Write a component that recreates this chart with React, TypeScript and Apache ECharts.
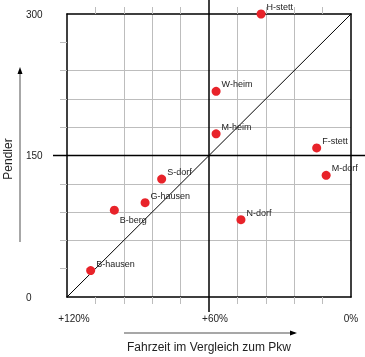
import React, { useEffect, useRef } from "react";
import * as echarts from "echarts";

const names = ["H-stett", "W-heim", "M-heim", "F-stett", "M-dorf", "S-dorf", "G-hausen", "B-berg", "B-hausen", "N-dorf"];
const fahrzeit = [38, 57, 57, 14.5, 10.5, 80, 87, 100, 110, 46.5];
const pendler = [300, 218, 173, 158, 129, 125, 100, 92, 28, 82];
const xTickValues = [120, 60, 0];
const xTickLabels = ["+120%", "+60%", "0%"];
const yTickValues = [0, 150, 300];
const gridTicks = [12, 24, 36, 48, 72, 84, 96, 108];
const yGridTicks = [30, 60, 90, 120, 180, 210, 240, 270];
const diagonal = [[120, 0], [0, 300]];

const FONT = "'Liberation Sans', Arial, sans-serif";
const TEXT = "#222";
const GRID = "#bdbdbd";

export default function App() {
  const ref = useRef<HTMLDivElement>(null);
  useEffect(() => {
    if (!ref.current) return;
    const chart = echarts.init(ref.current, null, { renderer: "svg" });
    const richKeys = ["a", "b", "c"];
    const option: any = {
      animation: false,
      textStyle: { fontFamily: FONT },
      grid: { left: 67, right: 14, top: 14, bottom: 60, containLabel: false, outerBoundsMode: "none" },
      xAxis: [
        {
          type: "value",
          inverse: true,
          min: 0,
          max: 120,
          interval: 12,
          position: "bottom",
          name: "Fahrzeit im Vergleich zum Pkw",
          nameLocation: "middle",
          nameGap: 44,
          nameTextStyle: { fontSize: 12, color: TEXT, fontFamily: FONT },
          axisLine: { show: true, onZero: false, lineStyle: { color: "#000", width: 1.5 } },
          axisTick: { show: true, length: 7, customValues: gridTicks, lineStyle: { color: GRID } },
          axisLabel: {
            customValues: xTickValues,
            margin: 16,
            fontSize: 10,
            color: TEXT,
            fontFamily: FONT,
            formatter: (v: number) => {
              const i = xTickValues.indexOf(v);
              return i < 0 ? "" : "{" + richKeys[i] + "|" + xTickLabels[i] + "}";
            },
            rich: {
              a: { fontSize: 10, color: TEXT, fontFamily: FONT, padding: [0, 0, 0, 14] },
              b: { fontSize: 10, color: TEXT, fontFamily: FONT, padding: [0, 0, 0, 12] },
              c: { fontSize: 10, color: TEXT, fontFamily: FONT },
            },
          },
          splitLine: { show: true, showMinLine: false, showMaxLine: false, lineStyle: { color: GRID, width: 1 } },
        },
        {
          type: "value",
          inverse: true,
          min: 0,
          max: 120,
          interval: 12,
          position: "top",
          axisLine: { show: true, onZero: false, lineStyle: { color: "#000", width: 1.5 } },
          axisTick: { show: true, length: 7, customValues: gridTicks, lineStyle: { color: GRID } },
          axisLabel: { show: false },
          splitLine: { show: false },
        },
      ],
      yAxis: [
        {
          type: "value",
          min: 0,
          max: 300,
          interval: 30,
          position: "left",
          name: "Pendler",
          nameLocation: "middle",
          nameRotate: 90,
          nameGap: 53,
          nameTextStyle: { fontSize: 12, color: TEXT, fontFamily: FONT, padding: [0, 7, 0, 0] },
          axisLine: { show: true, onZero: false, lineStyle: { color: "#000", width: 1.5 } },
          axisTick: { show: true, length: 7, customValues: yGridTicks, lineStyle: { color: GRID } },
          axisLabel: {
            customValues: yTickValues,
            margin: 41,
            align: "left",
            fontSize: 10,
            color: TEXT,
            fontFamily: FONT,
          },
          splitLine: { show: true, showMinLine: false, showMaxLine: false, lineStyle: { color: GRID, width: 1 } },
        },
        {
          type: "value",
          min: 0,
          max: 300,
          interval: 30,
          position: "right",
          axisLine: { show: true, onZero: false, lineStyle: { color: "#000", width: 1.5 } },
          axisTick: { show: false },
          axisLabel: { show: false },
          splitLine: { show: false },
        },
      ],
      series: [
        {
          type: "line",
          data: diagonal,
          symbol: "none",
          lineStyle: { color: "#000", width: 1 },
          z: 3,
          silent: true,
        },
        {
          type: "scatter",
          symbolSize: 9,
          itemStyle: { color: "#e8232a", opacity: 1 },
          z: 5,
          label: {
            show: true,
            position: "right",
            distance: 0,
            offset: [1, -7],
            fontSize: 9,
            color: TEXT,
            fontFamily: FONT,
            formatter: (p: any) => p.name,
          },
          data: names.map((n, i) => {
            const item: any = { name: n, value: [fahrzeit[i], pendler[i]] };
            if (n === "B-berg") item.label = { offset: [1, 10] };
            return item;
          }),
        },
      ],
    };
    chart.setOption(option);
    const x60 = chart.convertToPixel({ xAxisIndex: 0 }, 60) as number;
    const y150 = chart.convertToPixel({ yAxisIndex: 0 }, 150) as number;
    const gx = chart.convertToPixel({ xAxisIndex: 0 }, 120) as number;
    const gy = chart.convertToPixel({ yAxisIndex: 0 }, 0) as number;
    const gTop = chart.convertToPixel({ yAxisIndex: 0 }, 300) as number;
    const gRight = chart.convertToPixel({ xAxisIndex: 0 }, 0) as number;
    const arrowColor = "#8a8a8a";
    const ax = gx - 47;
    const ay = gy + 36;
    chart.setOption({
      graphic: [
        { type: "line", z: 4, shape: { x1: gx - 14, y1: y150, x2: 365, y2: y150 }, style: { stroke: "#000", lineWidth: 1.5 } },
        { type: "line", z: 4, shape: { x1: x60, y1: 0, x2: x60, y2: gy + 15 }, style: { stroke: "#000", lineWidth: 1.5 } },
        { type: "line", shape: { x1: ax, y1: gTop + 56, x2: ax, y2: gy - 55 }, style: { stroke: arrowColor, lineWidth: 1.5 } },
        { type: "polygon", shape: { points: [[ax, gTop + 53], [ax - 2.5, gTop + 60], [ax + 2.5, gTop + 60]] }, style: { fill: "#000" } },
        { type: "line", shape: { x1: gx + 57, y1: ay, x2: gRight - 56, y2: ay }, style: { stroke: arrowColor, lineWidth: 1.5 } },
        { type: "polygon", shape: { points: [[gRight - 54, ay], [gRight - 61, ay - 2.5], [gRight - 61, ay + 2.5]] }, style: { fill: "#000" } },
      ],
    });
    return () => chart.dispose();
  }, []);
  return <div ref={ref} style={{ position: "fixed", left: 0, top: 0, width: 365, height: 357 }} />;
}
